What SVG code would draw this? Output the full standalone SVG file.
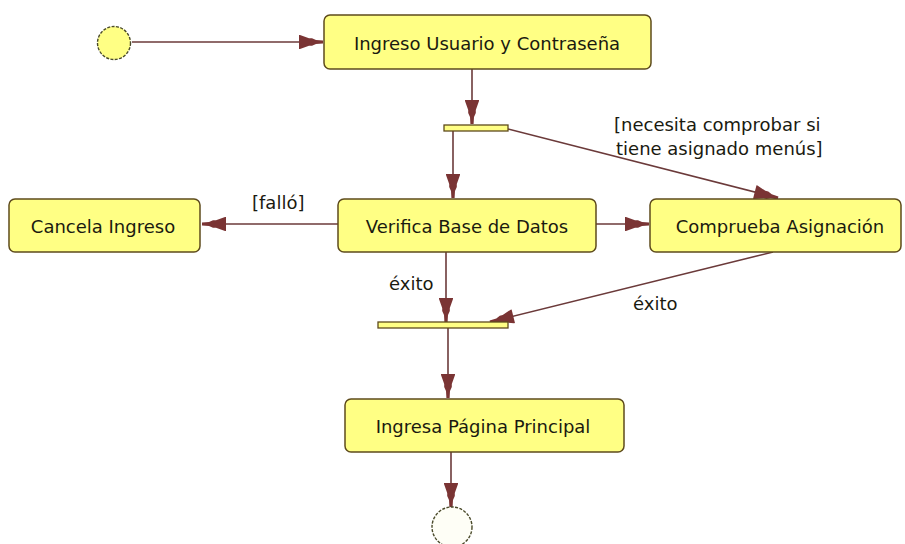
<svg xmlns="http://www.w3.org/2000/svg" width="905" height="544" viewBox="0 0 905 544">
  <style>
    .act { fill: #ffff84; stroke: #5e4b1c; stroke-width: 1.5; }
    .bar { fill: #ffff84; stroke: #5e4b1c; stroke-width: 1.3; }
    .state { stroke: #4a4a2a; stroke-width: 1.4; stroke-dasharray: 3 1.4; }
    .lbl { font-family: "DejaVu Sans", Verdana, sans-serif; font-size: 18px; fill: #1a1a10; }
    .ctr { text-anchor: middle; dominant-baseline: central; }
    .flow { fill: none; stroke: #6b3a3a; stroke-width: 1.6; marker-end: url(#arrow); }
  </style>
  <defs>
    <!-- tapered stepped arrowhead, tip at the origin pointing along +x -->
    <marker id="arrow" markerUnits="userSpaceOnUse" viewBox="-26 -8 27 16" markerWidth="27" markerHeight="16" refX="0" refY="0" orient="auto">
      <path d="M0,-1.6 L-7,-2 L-11,-3.8 L-14,-3.8 L-23,-7 L-24,-7 L-24,7 L-23,7 L-14,3.8 L-11,3.8 L-7,2 L0,1.6 Z" fill="#7a3434"/>
    </marker>
  </defs>

  <rect width="905" height="544" fill="#ffffff"/>

  <!-- connectors -->
  <g id="connectors">
    <line class="flow" x1="132" y1="42" x2="323" y2="42"/>
    <line class="flow" x1="472" y1="69" x2="472" y2="124"/>
    <line class="flow" x1="453" y1="131" x2="453" y2="198"/>
    <line class="flow" x1="508" y1="129" x2="778" y2="198"/>
    <line class="flow" x1="338" y1="224" x2="202" y2="224"/>
    <line class="flow" x1="596" y1="224" x2="649" y2="224"/>
    <line class="flow" x1="446" y1="252" x2="446" y2="322"/>
    <line class="flow" x1="773" y1="252" x2="490" y2="322"/>
    <line class="flow" x1="448" y1="328" x2="448" y2="398"/>
    <line class="flow" x1="451" y1="452" x2="451" y2="507"/>
  </g>

  <!-- connector labels -->
  <g id="labels">
    <text class="lbl" x="614" y="131">[necesita comprobar si</text>
    <text class="lbl" x="616" y="155">tiene asignado menús]</text>
    <text class="lbl" x="252" y="209">[falló]</text>
    <text class="lbl" x="389" y="290">éxito</text>
    <text class="lbl" x="633" y="310">éxito</text>
  </g>

  <g id="start">
    <circle class="state" cx="114" cy="43" r="16.5" fill="#ffff84"/>
  </g>

  <g id="ingreso-usuario">
    <rect class="act" x="324" y="15" width="327" height="54" rx="6"/>
    <text class="lbl ctr" x="487" y="43">Ingreso Usuario y Contraseña</text>
  </g>

  <g id="fork">
    <rect class="bar" x="444" y="125" width="64" height="6"/>
  </g>

  <g id="cancela-ingreso">
    <rect class="act" x="9" y="199" width="191" height="53" rx="6"/>
    <text class="lbl ctr" x="103" y="226">Cancela Ingreso</text>
  </g>

  <g id="verifica-base">
    <rect class="act" x="338" y="199" width="258" height="53" rx="6"/>
    <text class="lbl ctr" x="467" y="226">Verifica Base de Datos</text>
  </g>

  <g id="comprueba-asignacion">
    <rect class="act" x="650" y="199" width="251" height="53" rx="6"/>
    <text class="lbl ctr" x="780" y="226">Comprueba Asignación</text>
  </g>

  <g id="join">
    <rect class="bar" x="378" y="322" width="130" height="6"/>
  </g>

  <g id="ingresa-pagina">
    <rect class="act" x="345" y="399" width="279" height="53" rx="6"/>
    <text class="lbl ctr" x="483" y="426">Ingresa Página Principal</text>
  </g>

  <g id="end">
    <circle class="state" cx="452" cy="527" r="20" fill="#fefef6"/>
  </g>
</svg>
